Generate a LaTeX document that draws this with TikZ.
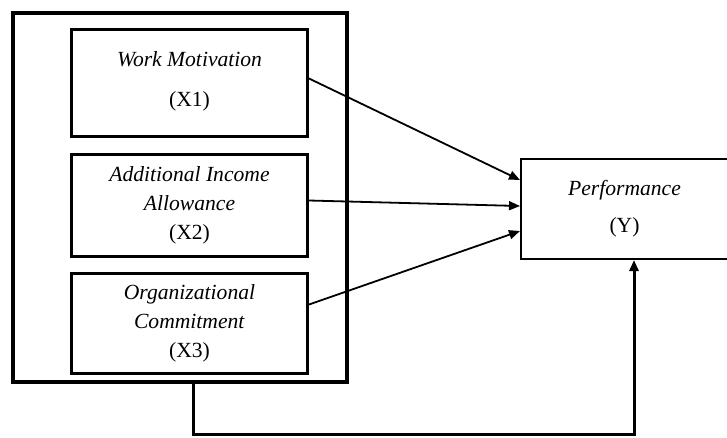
\documentclass[tikz,border=0pt]{standalone}
\usepackage{fontspec}
\setmainfont{Liberation Serif}
\usetikzlibrary{arrows.meta}
\begin{document}
\begin{tikzpicture}[x=1pt,y=-1pt,
  varbox/.style={draw,line width=3pt,minimum width=236pt,anchor=north west,inner sep=0pt,align=center,font=\fontsize{21.6}{29}\selectfont},
  outerbox/.style={draw,line width=4pt},
  perfbox/.style={draw,line width=2pt,anchor=north west,minimum width=207pt,minimum height=100pt,align=center,inner sep=0pt,font=\fontsize{21.6}{37}\selectfont},
  arr/.style={line width=1.8pt,-{Triangle[length=11pt,width=9pt]}},
  link/.style={line width=3pt,-{Triangle[length=11pt,width=9pt]}}]
\useasboundingbox (0,0) rectangle (727,437);
\draw[outerbox] (13,13) rectangle (347,382);
\coordinate (ob) at (193,382);
\node[varbox,minimum height=107pt,text depth=8pt] (x1) at (70,28) {\textit{Work Motivation}\\[11pt](X1)};
\node[varbox,minimum height=102pt] (x2) at (70,153) {\textit{Additional Income}\\\textit{Allowance}\\(X2)};
\node[varbox,minimum height=100pt] (x3) at (70,272) {\textit{Organizational}\\\textit{Commitment}\\(X3)};
\node[perfbox] (y) at (520,158) {\textit{Performance}\\(Y)};
\coordinate (c1) at (193,434);
\coordinate (c2) at (634,434);
\draw[arr] ([yshift=4.5pt]x1.east) -- ([yshift=29pt]y.west);
\draw[arr] ([yshift=5pt]x2.east) -- ([yshift=3pt]y.west);
\draw[arr] ([yshift=19pt]x3.east) -- ([yshift=-22pt]y.west);
\draw[link] (ob) -- (c1) -- (c2) -- (y.south -| c2);
\end{tikzpicture}
\end{document}
